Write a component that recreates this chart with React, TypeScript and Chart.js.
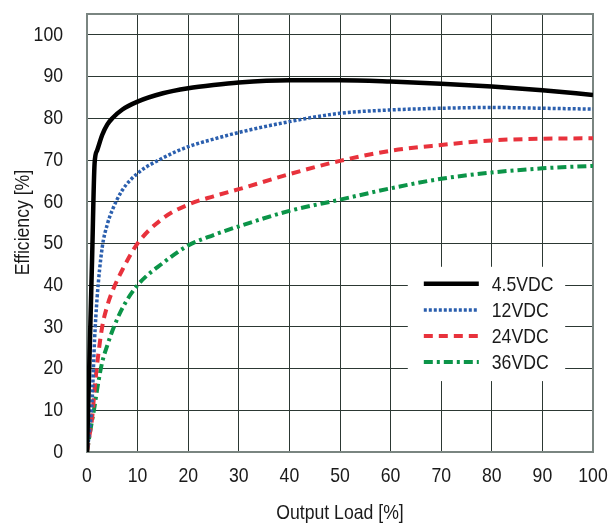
import React, { useEffect, useRef } from "react";
import { Chart, registerables } from "chart.js";

Chart.register(...registerables);

const FONT = "'Liberation Sans', Arial, Helvetica, sans-serif";
const FONT_SIZE = 21;
const CONDENSE = 0.84;

// Output load [%]
const loadPct = [0, 0.5, 1, 1.5, 2, 3, 4, 5, 7, 10, 15, 20, 25, 30, 40, 50, 60, 70, 80, 90, 100];
// Efficiency [%] per input voltage
const eff45 = [0, 23, 46, 69.2, 72.3, 76, 78.5, 80, 82.1, 84, 86, 87.2, 88, 88.6, 89.1, 89.1, 88.8, 88.3, 87.6, 86.7, 85.6];
const eff12 = [0, 5, 12, 27, 37, 49, 54.5, 58, 62.8, 66.8, 70.5, 73.2, 75, 76.6, 79.2, 81.2, 82, 82.4, 82.6, 82.4, 82.2];
const eff24 = [0, 4, 8, 15, 21, 30, 35, 38.5, 43.7, 50, 56, 59.3, 61.3, 63, 66.6, 69.8, 72.2, 73.6, 74.7, 75.1, 75.2];
const eff36 = [0, 4, 7.5, 11, 15, 21.5, 25.5, 29, 34.5, 40, 45.3, 49.5, 52, 54.1, 57.8, 60.5, 63.2, 65.5, 67, 68, 68.6];

const seriesLabels = ["4.5VDC", "12VDC", "24VDC", "36VDC"];
const seriesValues = [eff45, eff12, eff24, eff36];
const seriesColors = ["#000000", "#2b5fae", "#e8323c", "#0b9448"];
const seriesDashes: number[][] = [[], [3, 2], [9, 6], [9, 4, 3, 4]];
const seriesWidths = [4.5, 3.5, 4, 4];

const yTickValues = [0, 10, 20, 30, 40, 50, 60, 70, 80, 90, 100];
const xTitle = "Output Load [%]";
const yTitle = "Efficiency [%]";

// Draws text slightly condensed (like the reference's condensed face)
const condensePlugin = {
  id: "condenseText",
  beforeDraw(chart: any) {
    const ctx: any = chart.ctx;
    if (ctx.__condensed) return;
    const orig = ctx.fillText;
    ctx.fillText = function (t: string, x: number, y: number, mw?: number) {
      this.save();
      this.translate(x, y);
      this.scale(CONDENSE, 1);
      if (mw === undefined) orig.call(this, t, 0, 0);
      else orig.call(this, t, 0, 0, mw / CONDENSE);
      this.restore();
    };
    ctx.__condensed = true;
  },
};

const framePlugin = {
  id: "frame",
  beforeDatasetsDraw(chart: any) {
    const { ctx, chartArea } = chart;
    ctx.save();
    ctx.strokeStyle = "#7a8581";
    ctx.lineWidth = 2;
    ctx.beginPath();
    ctx.moveTo(chartArea.left, chartArea.top);
    ctx.lineTo(chartArea.right, chartArea.top);
    ctx.lineTo(chartArea.right, chartArea.bottom);
    ctx.stroke();
    ctx.restore();
  },
  afterDraw(chart: any) {
    const { ctx } = chart;
    ctx.save();
    ctx.fillStyle = "#1a1a1a";
    ctx.font = `${FONT_SIZE}px ${FONT}`;
    ctx.textAlign = "center";
    ctx.textBaseline = "middle";
    ctx.translate(23, chart.scales.y.getPixelForValue(55));
    ctx.rotate(-Math.PI / 2);
    ctx.fillText(yTitle, 0, 0);
    ctx.restore();
  },
};

const legendPlugin = {
  id: "boxLegend",
  afterDraw(chart: any) {
    const { ctx } = chart;
    const xs = chart.scales.x;
    const ys = chart.scales.y;
    const left = xs.getPixelForValue(63.4);
    const right = xs.getPixelForValue(94.5);
    const top = ys.getPixelForValue(44.4);
    const bottom = ys.getPixelForValue(17);
    ctx.save();
    ctx.fillStyle = "#ffffff";
    ctx.fillRect(left, top, right - left, bottom - top);
    chart.data.datasets.forEach((ds: any, i: number) => {
      const y = top + 17 + i * 26.1;
      ctx.strokeStyle = ds.borderColor;
      ctx.lineWidth = ds.borderWidth;
      ctx.setLineDash(ds.borderDash || []);
      ctx.beginPath();
      ctx.moveTo(left + 16, y);
      ctx.lineTo(left + 71, y);
      ctx.stroke();
      ctx.setLineDash([]);
      ctx.fillStyle = "#1a1a1a";
      ctx.font = `${FONT_SIZE}px ${FONT}`;
      ctx.textBaseline = "middle";
      ctx.textAlign = "left";
      ctx.fillText(ds.label, left + 84, y + 1);
    });
    ctx.restore();
  },
};

export default function App() {
  const ref = useRef<HTMLCanvasElement | null>(null);
  useEffect(() => {
    if (!ref.current) return;
    const chart = new Chart(ref.current, {
      type: "line",
      data: {
        datasets: seriesLabels.map((label, i) => ({
          label,
          data: loadPct.map((x, j) => ({ x, y: seriesValues[i][j] })),
          borderColor: seriesColors[i],
          backgroundColor: seriesColors[i],
          borderWidth: seriesWidths[i],
          borderDash: seriesDashes[i],
          pointRadius: 0,
          cubicInterpolationMode: "monotone" as const,
          fill: false,
        })),
      },
      options: {
        animation: false,
        responsive: true,
        maintainAspectRatio: false,
        layout: { padding: { top: 14, right: 16, left: 0, bottom: 0 } },
        plugins: { legend: { display: false }, tooltip: { enabled: false } },
        scales: {
          x: {
            type: "linear",
            min: 0,
            max: 100,
            ticks: { stepSize: 10, color: "#1a1a1a", font: { family: FONT, size: FONT_SIZE }, padding: 12, maxRotation: 0, autoSkip: false },
            grid: { color: "#2c3833", lineWidth: 1, drawTicks: false },
            border: { color: "#7a8581", width: 2 },
            title: { display: true, text: xTitle, color: "#1a1a1a", font: { family: FONT, size: FONT_SIZE }, padding: { top: 0, bottom: 0 } },
            afterFit: (s: any) => {
              s.height = 74;
              s.paddingLeft = 0;
              s.paddingRight = 0;
            },
          },
          y: {
            type: "linear",
            min: 0,
            max: 105,
            afterBuildTicks: (s: any) => { s.ticks = yTickValues.map((v) => ({ value: v })); },
            ticks: {
              color: "#1a1a1a",
              font: { family: FONT, size: FONT_SIZE },
              padding: 24,
              autoSkip: false,
            },
            grid: { color: "#2c3833", lineWidth: 1, drawTicks: false },
            border: { color: "#7a8581", width: 2 },
            afterFit: (s: any) => {
              s.width = 87;
              s.paddingTop = 0;
              s.paddingBottom = 0;
            },
          },
        },
      },
      plugins: [condensePlugin, framePlugin, legendPlugin],
    });
    return () => chart.destroy();
  }, []);
  return (
    <div style={{ position: "fixed", left: 0, top: 0, width: 609, height: 526, background: "#fff" }}>
      <canvas ref={ref} />
    </div>
  );
}
